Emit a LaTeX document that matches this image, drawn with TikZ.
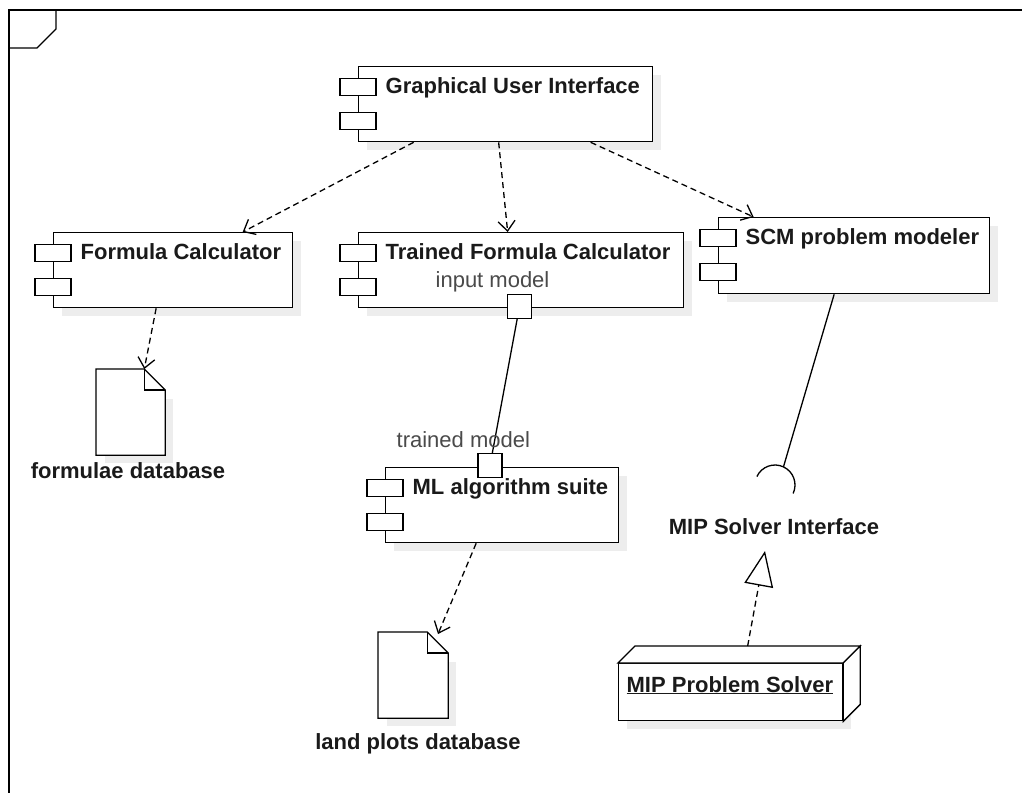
\documentclass[tikz,border=0pt]{standalone}
\usepackage{fontspec}
\setmainfont{Liberation Sans}
\usetikzlibrary{arrows.meta,calc}
\definecolor{txt}{HTML}{1A1A1A}
\definecolor{lbl}{HTML}{4A4A4A}
\definecolor{shd}{HTML}{EDEDED}

\newcommand{\umlcomp}[6]{%
  \fill[shd] (#2+9,#3+9) rectangle ++(#4,#5);
  \node[comp, minimum width=#4pt, minimum height=#5pt] (#1) at (#2,#3) {};
  \node[lug, anchor=north] (#1-l1) at ($(#1.north west)+(0,12)$) {};
  \node[lug, anchor=north] (#1-l2) at ($(#1.north west)+(0,46)$) {};
  \node[ctitle] (#1-t) at ($(#1.north west)+(27,27)$) {#6};
}
\newcommand{\umldoc}[5]{%
  \fill[shd] (#2+9,#3+30) rectangle ++(#4,#5-21);
  \node[inner sep=0pt, minimum width=#4pt, minimum height=#5pt, anchor=north west] (#1) at (#2,#3) {};
  \draw[fill=white] (#1.north west) -- ($(#1.north east)+(-21,0)$) -- ($(#1.north east)+(0,21)$) -- (#1.south east) -- (#1.south west) -- cycle;
  \draw ($(#1.north east)+(-21,0)$) -- ($(#1.north east)+(-21,21)$) -- ($(#1.north east)+(0,21)$);
}

\begin{document}
\begin{tikzpicture}[x=1pt,y=-1pt,
  line width=1.3pt, line join=miter,
  comp/.style={draw, fill=white, inner sep=0pt, anchor=north west},
  lug/.style={draw, fill=white, inner sep=0pt, minimum width=36pt, minimum height=17pt},
  ctitle/.style={anchor=base west, inner sep=0pt, font=\fontsize{22}{26}\selectfont\bfseries, text=txt},
  plabel/.style={anchor=base west, inner sep=0pt, font=\fontsize{22}{26}\selectfont, text=lbl},
  blabel/.style={anchor=base, inner sep=0pt, font=\fontsize{22}{26}\selectfont\bfseries, text=txt},
  port/.style={draw, fill=white, inner sep=0pt, minimum size=24pt},
  dep/.style={dash pattern=on 6pt off 4pt, -{Straight Barb[length=10pt,width=17pt]}},
  real/.style={dash pattern=on 6pt off 4pt, -{Triangle[open,length=35pt,width=29pt]}},
  frameline/.style={line width=1.4pt}
]
\useasboundingbox (0,0) rectangle (1022,793);

% frame
\draw[frameline] (1022,10) -- (9,10) -- (9,793);
\draw[frameline] (56,10) -- (56,29) -- (37,48) -- (9,48);

% components
\umlcomp{gui}{358}{66}{294}{75}{Graphical User Interface}
\umlcomp{fc}{53}{232}{239}{75}{Formula Calculator}
\umlcomp{tfc}{358}{232}{325}{75}{Trained Formula Calculator}
\umlcomp{scm}{718}{217}{271}{76}{SCM problem modeler}
\umlcomp{ml}{385}{467}{233}{75}{ML algorithm suite}

% ports
\node[port] (tfcport) at (519.5,306.5) {};
\node[plabel] (tfcport-t) at (435,287) {input model};

% documents
\umldoc{fdb}{96}{369}{68}{85}
\node[blabel] (fdb-t) at (128,478) {formulae database};
\umldoc{ldb}{378}{632}{69}{85}
\node[blabel] (ldb-t) at (418,749) {land plots database};

% assembly line between ports (drawn before ml port so port covers it)
\coordinate (mlportc) at (490,465.5);
\draw (tfcport) -- (mlportc);
\node[port] (mlport) at (mlportc) {};
\node[plabel] (mlport-t) at (396,447) {trained model};

% dependencies
\draw[dep] ([xshift=-92pt]gui.south) -- ([xshift=69.5pt]fc.north);
\draw[dep] ([xshift=-7pt]gui.south) -- ([xshift=-13.5pt]tfc.north);
\draw[dep] ([xshift=85pt]gui.south) -- ([xshift=-100.5pt]scm.north);
\coordinate (fdbtip) at ($(fdb.north east)+(-21,0)$);
\draw[dep] ([xshift=-17pt]fc.south) -- (fdbtip);
\coordinate (ldbtip) at (438,634);
\draw[dep] ([xshift=-26pt]ml.south) -- (ldbtip);

% required interface socket
\coordinate (sockc) at (775,485);
\coordinate (sockapex) at ($(sockc)+(-65:20)$);
\draw ([xshift=-20pt]scm.south) -- (sockapex);
\draw ($(sockc)+(-155:20)$) arc[start angle=-155, end angle=25, radius=20];
\node[blabel] (iface) at (774,534) {MIP Solver Interface};

% MIP Problem Solver node (3D box)
\fill[shd] (618+9,663+9) rectangle ++(224,57);
\node[comp, minimum width=224pt, minimum height=57pt] (mip) at (618,663) {};
\draw[fill=white] (mip.north west) -- ($(mip.north west)+(17,-17)$) -- ($(mip.north east)+(17,-17)$) -- (mip.north east) -- cycle;
\draw[fill=white] (mip.north east) -- ($(mip.north east)+(17,-17)$) -- ($(mip.south east)+(17,-17)$) -- (mip.south east) -- cycle;
\node[ctitle] (mip-t) at (626,692) {\underline{MIP Problem Solver}};

% realization
\coordinate (realtip) at (765,551);
\draw[real] ($(mip.north)+(17,-17)$) -- (realtip);
\end{tikzpicture}
\end{document}
